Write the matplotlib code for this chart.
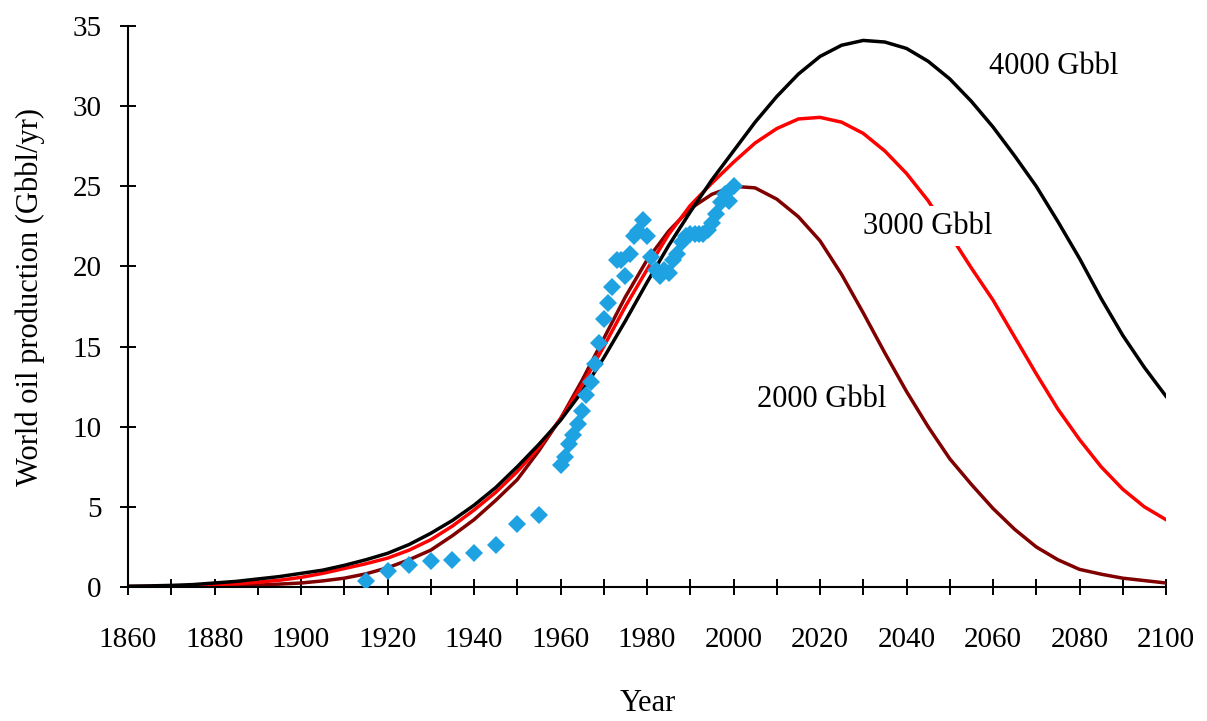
import matplotlib
matplotlib.use("Agg")
import matplotlib.pyplot as plt
from matplotlib.ticker import MultipleLocator

# ---- data ----
curve_years = [1860, 1865, 1870, 1875, 1880, 1885, 1890, 1895, 1900, 1905,
               1910, 1915, 1920, 1925, 1930, 1935, 1940, 1945, 1950, 1955,
               1960, 1965, 1970, 1975, 1980, 1985, 1990, 1995, 2000, 2005,
               2010, 2015, 2020, 2025, 2030, 2035, 2040, 2045, 2050, 2055,
               2060, 2065, 2070, 2075, 2080, 2085, 2090, 2095, 2100]

urr_4000 = [0.05, 0.07, 0.10, 0.15, 0.25, 0.35, 0.50, 0.65, 0.85, 1.05,
            1.35, 1.70, 2.10, 2.65, 3.35, 4.15, 5.10, 6.20, 7.50, 8.90,
            10.4, 12.2, 14.3, 16.6, 19.0, 21.3, 23.4, 25.4, 27.2, 29.0,
            30.6, 32.0, 33.1, 33.8, 34.1, 34.0, 33.6, 32.8, 31.7, 30.3,
            28.7, 26.9, 25.0, 22.8, 20.5, 18.0, 15.7, 13.7, 11.9]

urr_3000 = [0.03, 0.04, 0.06, 0.09, 0.14, 0.20, 0.30, 0.42, 0.60, 0.85,
            1.15, 1.45, 1.80, 2.30, 2.95, 3.80, 4.80, 5.90, 7.20, 8.70,
            10.5, 12.6, 15.0, 17.5, 19.8, 22.0, 23.8, 25.2, 26.5, 27.7,
            28.6, 29.2, 29.3, 29.0, 28.3, 27.2, 25.8, 24.1, 22.0, 19.9,
            17.9, 15.6, 13.3, 11.1, 9.2, 7.5, 6.1, 5.0, 4.2]

urr_2000 = [0.01, 0.015, 0.02, 0.03, 0.05, 0.08, 0.12, 0.18, 0.25, 0.38,
            0.55, 0.82, 1.20, 1.70, 2.30, 3.20, 4.20, 5.40, 6.70, 8.50,
            10.5, 12.9, 15.5, 18.1, 20.4, 22.2, 23.6, 24.5, 25.0, 24.9,
            24.2, 23.1, 21.6, 19.5, 17.1, 14.6, 12.2, 10.0, 8.0, 6.4,
            4.9, 3.6, 2.5, 1.7, 1.1, 0.8, 0.55, 0.4, 0.25]

obs_years = [1915, 1920, 1925, 1930, 1935, 1940, 1945, 1950, 1955,
             1960, 1961, 1962, 1963, 1964, 1965, 1966, 1967, 1968, 1969,
             1970, 1971, 1972, 1973, 1974, 1975, 1976, 1977, 1978, 1979,
             1980, 1981, 1982, 1983, 1984, 1985, 1986, 1987, 1988, 1989,
             1990, 1991, 1992, 1993, 1994, 1995, 1996, 1997, 1998, 1999, 2000]
obs_prod = [0.35, 1.0, 1.4, 1.6, 1.7, 2.1, 2.6, 3.9, 4.5,
            7.6, 8.1, 8.9, 9.5, 10.2, 11.0, 12.0, 12.8, 13.9, 15.2,
            16.7, 17.7, 18.7, 20.4, 20.4, 19.4, 20.8, 21.9, 22.2, 22.9,
            21.9, 20.6, 19.8, 19.4, 19.8, 19.6, 20.4, 20.8, 21.5, 21.9,
            22.0, 22.0, 22.0, 22.0, 22.3, 22.7, 23.3, 24.0, 24.5, 24.1, 25.0]

labels = ["4000 Gbbl", "3000 Gbbl", "2000 Gbbl"]
label_pos = [(2074, 32.5), (2045, 22.5), (2020.5, 11.7)]
x_ticks_major = 20
x_ticks_minor = 10

# ---- styling ----
plt.rcParams['font.family'] = ['Liberation Serif', 'DejaVu Serif']

fig = plt.figure(figsize=(12.07, 7.21), dpi=100)
ax = fig.add_axes([128 / 1207, 1 - 587 / 721, 1038 / 1207, 561 / 721])

lw = 2.5
ax.plot(curve_years, urr_2000, color='#800000', lw=lw, zorder=2)
ax.plot(curve_years, urr_3000, color='#ff0000', lw=lw, zorder=2)
ax.plot(curve_years, urr_4000, color='#000000', lw=lw, zorder=2)
ax.plot(obs_years, obs_prod, linestyle='none', marker='D', markersize=9,
        color='#1fa2e1', markeredgewidth=0, zorder=3)

for txt, (xx, yy) in zip(labels, label_pos):
    bbox = None
    if txt.startswith("3000"):
        bbox = dict(facecolor='white', edgecolor='none', pad=4)
    ax.text(xx, yy, txt, ha='center', va='center', fontsize=22,
            bbox=bbox, zorder=4)

ax.set_xlim(1860, 2100)
ax.set_ylim(0, 35)
ax.xaxis.set_major_locator(MultipleLocator(x_ticks_major))
ax.xaxis.set_minor_locator(MultipleLocator(x_ticks_minor))
ax.yaxis.set_major_locator(MultipleLocator(5))

for s in ['top', 'right']:
    ax.spines[s].set_visible(False)
for s in ['left', 'bottom']:
    ax.spines[s].set_linewidth(1.5)

ax.tick_params(axis='x', which='both', direction='inout', length=11.5,
               width=1.4, labelsize=21, pad=23)
ax.tick_params(axis='y', which='both', direction='inout', length=12,
               width=1.4, labelsize=21, pad=13)

ax.set_xlabel("Year", fontsize=22, va='top')
ax.xaxis.set_label_coords(0.501, -0.182)
ax.set_ylabel("World oil production (Gbbl/yr)", fontsize=22, va='center')
ax.yaxis.set_label_coords(-0.094, 0.517)

fig.savefig("out.png", dpi=100)
